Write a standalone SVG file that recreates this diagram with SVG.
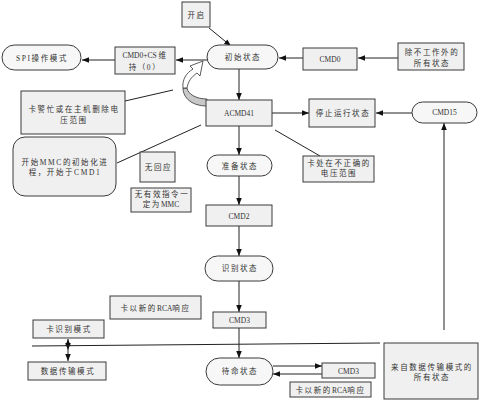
<svg xmlns="http://www.w3.org/2000/svg" width="481" height="401" viewBox="0 0 481 401">
<style>
  .box{fill:#f0f0f0;stroke:#3a3a3a;stroke-width:1}
  .pill{fill:#f7f7f7;stroke:#3a3a3a;stroke-width:1}
  .t{font-family:"Liberation Serif","Noto Sans CJK SC",serif;font-size:7.5px;fill:#333;text-anchor:middle}
  .cn{letter-spacing:1.6px}
  .ln{stroke:#222;stroke-width:1;fill:none}
  .ar{stroke:#222;stroke-width:1;fill:none;marker-end:url(#ah)}
</style>
<defs>
  <marker id="ah" viewBox="0 0 10 10" refX="10" refY="5" markerWidth="7" markerHeight="7" markerUnits="userSpaceOnUse" orient="auto-start-reverse">
    <path d="M0,1 L10,5 L0,9 Z" fill="#111"/>
  </marker>
</defs>
<rect width="481" height="401" fill="#fff"/>

<g id="connectors">
  <line class="ar" x1="209" y1="28" x2="231" y2="46"/>
  <line class="ar" x1="207" y1="60" x2="176" y2="60"/>
  <line class="ar" x1="115" y1="60" x2="82" y2="60"/>
  <line class="ar" x1="398" y1="58" x2="358" y2="58"/>
  <line class="ar" x1="303" y1="58" x2="279" y2="58"/>
  <line class="ar" x1="239" y1="69" x2="239" y2="100"/>
  <line class="ar" x1="272" y1="113" x2="309" y2="113"/>
  <line class="ar" x1="412" y1="113" x2="376" y2="113"/>
  <line class="ar" x1="444" y1="330" x2="444" y2="123"/>
  <line class="ar" x1="239" y1="126" x2="239" y2="155"/>
  <line class="ar" x1="239" y1="176" x2="239" y2="205"/>
  <line class="ar" x1="239" y1="226" x2="239" y2="256"/>
  <line class="ar" x1="239" y1="281" x2="239" y2="312"/>
  <line class="ar" x1="239" y1="328" x2="239" y2="358"/>
  <line class="ar" x1="273" y1="366" x2="322" y2="366"/>
  <line class="ar" x1="322" y1="374" x2="273" y2="374"/>
  <line class="ar" x1="68" y1="350" x2="68" y2="339" style="marker-start:url(#ah)"/>
  <line class="ar" x1="68" y1="350" x2="68" y2="361"/>
  <line class="ln" x1="32" y1="346" x2="380" y2="343"/>
  <line class="ln" x1="125" y1="101" x2="173" y2="90"/>
  <line class="ln" x1="117" y1="163" x2="201" y2="125"/>
  <line class="ln" x1="275" y1="130" x2="320" y2="156"/>
</g>

<g id="loop-arrow">
  <path d="M183,88 C183,98 192,106 207,106 L207,99 C196,99 188,94 187,88 Z" fill="#c8c8c8" stroke="#333" stroke-width="0.8"/>
  <path d="M183,88 C182,80 186,73 193,69 L190,66 L203,61 L200,76 L197,73 C191,77 188,82 187,88 Z" fill="#fff" stroke="#333" stroke-width="0.8"/>
</g>

<g id="n-start"><rect class="box" x="182" y="2" width="28" height="25"/><text class="t cn" x="196.5" y="18">开启</text></g>
<g id="n-init"><rect class="pill" x="207" y="45" width="71" height="24" rx="12"/><text class="t cn" x="243" y="60">初始状态</text></g>
<g id="n-cmd0cs"><rect class="box" x="115" y="47" width="60" height="27"/><text class="t" x="145" y="58">CMD0+CS <tspan class="cn">维</tspan></text><text class="t cn" x="145" y="70">持（0）</text></g>
<g id="n-spi"><rect class="pill" x="2" y="45" width="79" height="25" rx="12.5"/><text class="t cn" x="42" y="61">SPI操作模式</text></g>
<g id="n-cmd0"><rect class="box" x="303" y="48" width="54" height="22"/><text class="t" x="330" y="62">CMD0</text></g>
<g id="n-all"><rect class="box" x="398" y="43" width="66" height="27"/><text class="t cn" x="432" y="55">除不工作外的</text><text class="t cn" x="432" y="66">所有状态</text></g>
<g id="n-acmd41"><rect class="box" x="206" y="100" width="66" height="26"/><text class="t" x="239" y="116">ACMD41</text></g>
<g id="n-stop"><rect class="box" x="309" y="99" width="66" height="28"/><text class="t cn" x="343" y="116">停止运行状态</text></g>
<g id="n-cmd15"><rect class="pill" x="412" y="102" width="65" height="21" rx="10.5"/><text class="t" x="444.5" y="115">CMD15</text></g>
<g id="n-busy"><rect class="box" x="21" y="91" width="104" height="43"/><text class="t cn" x="74" y="112">卡警忙或在主机删除电</text><text class="t cn" x="74" y="123">压范围</text></g>
<g id="n-mmc"><rect class="box" x="13" y="137" width="103" height="59" rx="12"/><text class="t cn" x="65" y="165">开始MMC的初始化进</text><text class="t cn" x="65" y="175">程，开始于CMD1</text></g>
<g id="n-noresp"><rect class="box" x="140" y="152" width="35" height="30"/><text class="t cn" x="158.5" y="170">无回应</text></g>
<g id="n-invalid"><rect class="box" x="131" y="188" width="60" height="24"/><text class="t cn" x="162" y="197">无有效指令一</text><text class="t" x="161" y="207"><tspan class="cn">定为</tspan>MMC</text></g>
<g id="n-ready"><rect class="pill" x="207" y="155" width="65" height="21" rx="10.5"/><text class="t cn" x="240" y="169">准备状态</text></g>
<g id="n-volt"><rect class="box" x="303" y="156" width="71" height="26"/><text class="t cn" x="339" y="166">卡处在不正确的</text><text class="t cn" x="339" y="176">电压范围</text></g>
<g id="n-cmd2"><rect class="box" x="206" y="205" width="66" height="21"/><text class="t" x="239" y="219">CMD2</text></g>
<g id="n-ident"><rect class="pill" x="205" y="256" width="68" height="25" rx="12.5"/><text class="t cn" x="240" y="271">识别状态</text></g>
<g id="n-rca1"><rect class="box" x="110" y="296" width="91" height="23"/><text class="t" x="155.5" y="311"><tspan class="cn">卡以新的</tspan>RCA<tspan class="cn">响应</tspan></text></g>
<g id="n-cmd3a"><rect class="box" x="213" y="312" width="53" height="16"/><text class="t" x="239.5" y="323">CMD3</text></g>
<g id="n-idmode"><rect class="box" x="33" y="320" width="71" height="18"/><text class="t cn" x="69" y="332">卡识别模式</text></g>
<g id="n-datamode"><rect class="box" x="28" y="362" width="78" height="18"/><text class="t cn" x="68" y="374">数据传输模式</text></g>
<g id="n-standby"><rect class="pill" x="206" y="358" width="67" height="27" rx="13.5"/><text class="t cn" x="240" y="374">待命状态</text></g>
<g id="n-cmd3b"><rect class="box" x="322" y="363" width="53" height="15"/><text class="t" x="348.5" y="373.5">CMD3</text></g>
<g id="n-rca2"><rect class="box" x="290" y="382" width="81" height="15"/><text class="t" x="330.5" y="393"><tspan class="cn">卡以新的</tspan>RCA<tspan class="cn">响应</tspan></text></g>
<g id="n-from"><rect class="box" x="384" y="343" width="94" height="56"/><text class="t cn" x="432" y="370">来自数据传输模式的</text><text class="t cn" x="432" y="380">所有状态</text></g>
</svg>
